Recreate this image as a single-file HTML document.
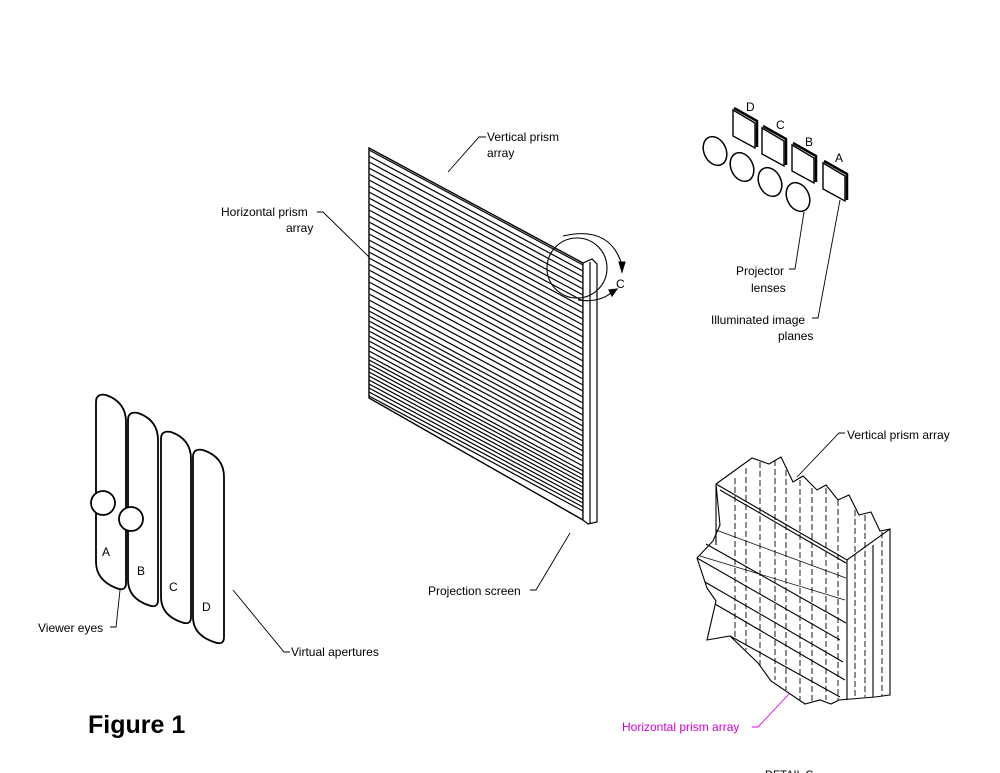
<!DOCTYPE html>
<html><head><meta charset="utf-8"><style>
body{margin:0;background:#fff;}
svg{display:block;font-family:"Liberation Sans","DejaVu Sans",sans-serif;}
text{font-size:12px;fill:#000;}
</style></head><body>
<svg width="1000" height="773" viewBox="0 0 1000 773" xmlns="http://www.w3.org/2000/svg">
<g stroke="#000" fill="none" stroke-width="1.2">
<polygon points="369,148 583,263 583,520 369,398" fill="#fff" stroke-width="1.4"/>
<polygon points="583,263 592,259 597,264 597,522 588,524 583,520" fill="#fff"/>
<line x1="590" y1="262" x2="590" y2="523"/>
<path d="M369,150 l214,115 M369,156 l214,115 M369,162 l214,115 M369,168 l214,115 M369,174 l214,115 M369,180 l214,115 M369,186 l214,115 M369,192 l214,115 M369,198 l214,115 M369,204 l214,115 M369,210 l214,115 M369,216 l214,115 M369,222 l214,115 M369,228 l214,115 M369,234 l214,115 M369,240 l214,115 M369,246 l214,115 M369,252 l214,115 M369,258 l214,115 M369,264 l214,115 M369,270 l214,115 M369,276 l214,115 M369,282 l214,115 M369,288 l214,115 M369,294 l214,115 M369,300 l214,115 M369,306 l214,115 M369,311 l214,115 M369,316 l214,115 M369,321 l214,115 M369,326 l214,115 M369,331 l214,115 M369,336 l214,115 M369,341 l214,115 M369,346 l214,115 M369,351 l214,115 M369,356 l214,115 M369,360 l214,115 M369,364 l214,115 M369,368 l214,115 M369,372 l214,115 M369,376 l214,115 M369,380 l214,115 M369,384 l214,115 M369,388 l214,115 M369,392 l214,115 M369,396 l214,115"/>
</g>
<g stroke="#000" fill="none" stroke-width="1.1">
<circle cx="577" cy="268" r="30"/>
<path d="M563,236 Q610,225 622,265"/>
<polygon points="622,272 619,262 625,262" fill="#000"/>
<path d="M578,300 Q600,303 612,292"/>
<polygon points="617,289 609,290 612,296" fill="#000"/>
</g>
<text x="616" y="288">C</text>
<g stroke="#000" fill="none" stroke-width="0.9">
<path d="M486,137 L479,137 L448,172"/>
<path d="M317,212 L323,212 L369,257"/>
<path d="M530,590 L536,590 L570,533"/>
<path d="M110,627 L116,627 L126,535"/>
<path d="M290,652 L284,652 L233,590"/>
<path d="M789,269 L795,269 L804,212"/>
<path d="M812,318 L818,318 L840,200"/>
<path d="M845,433 L839,433 L797,477"/>
</g>
<path d="M752,727 L758,727 L835,645" stroke="#e000e0" fill="none" stroke-width="0.9"/>
<text x="487" y="141">Vertical prism</text>
<text x="487" y="157">array</text>
<text x="221" y="216">Horizontal prism</text>
<text x="286" y="232">array</text>
<text x="428" y="595">Projection screen</text>
<text x="38" y="632">Viewer eyes</text>
<text x="291" y="656">Virtual apertures</text>
<text x="736" y="275">Projector</text>
<text x="751" y="292">lenses</text>
<text x="711" y="324">Illuminated image</text>
<text x="778" y="340">planes</text>
<text x="847" y="439">Vertical prism array</text>
<text x="622" y="731" style="fill:#d000d0">Horizontal prism array</text>
<text x="88" y="733" style="font-size:25px;font-weight:bold">Figure 1</text>
<text x="765" y="778" style="font-size:11px">DETAIL C</text>
<g stroke="#000" fill="#fff" stroke-width="1.5">
<ellipse cx="715" cy="151" rx="11" ry="15" transform="rotate(-25 715 151)"/>
<ellipse cx="742" cy="167" rx="11" ry="15" transform="rotate(-25 742 167)"/>
<ellipse cx="770" cy="182" rx="11" ry="15" transform="rotate(-25 770 182)"/>
<ellipse cx="798" cy="197" rx="11" ry="15" transform="rotate(-25 798 197)"/>
</g>
<g stroke="#000" fill="#fff" stroke-width="1.4">
<polygon points="733,110 755,123 755,148 733,136"/>
<polyline points="734,108 757,121 757,147" fill="none" stroke-width="2.5"/>
<polygon points="762,128 784,141 784,166 762,154"/>
<polyline points="763,126 786,139 786,165" fill="none" stroke-width="2.5"/>
<polygon points="792,145 814,158 814,183 792,171"/>
<polyline points="793,143 816,156 816,182" fill="none" stroke-width="2.5"/>
<polygon points="823,163 845,176 845,201 823,189"/>
<polyline points="824,161 847,174 847,200" fill="none" stroke-width="2.5"/>
</g>
<text x="746" y="111">D</text><text x="776" y="129">C</text><text x="805" y="146">B</text><text x="835" y="162">A</text>
<g stroke="#000" fill="#fff" stroke-width="1.8">
<path d="M96,402 Q96,393 106,395 Q126,402 126,422 L126,583 Q126,592 116,588 Q96,580 96,562 Z"/>
<path d="M128,420 Q128,411 138,413 Q158,420 158,440 L158,600 Q158,609 148,605 Q128,598 128,580 Z"/>
<path d="M161,439 Q161,430 171,432 Q191,439 191,459 L191,617 Q191,626 181,622 Q161,615 161,597 Z"/>
<path d="M193,457 Q193,448 203,450 Q224,457 224,477 L224,637 Q224,646 214,642 Q193,635 193,617 Z"/>
<circle cx="103" cy="503" r="12"/>
<circle cx="131" cy="519" r="12"/>
</g>
<text x="102" y="556">A</text><text x="137" y="575">B</text><text x="169" y="591">C</text><text x="202" y="611">D</text>
<g stroke="#000" fill="none" stroke-width="1.1">
<path d="M716,484 L752,458 L769,464 L781,457 L793,482 L803,476 L817,490 L826,485 L838,500 L849,495 L859,515 L871,512 L880,531 L890,529 L890,695 L875,697 L839,700 L831,704 L820,700 L805,704 L771,681 L758,663 L730,636 L707,640 L716,601 L707,588 L697,558 L713,541 L720,525 Z" fill="#fff"/>
<path d="M716,484 L847,560 L890,529"/>
<path d="M847,560 L847,700"/>
<path d="M873,545 L873,697"/>
<path d="M716,484 L716,545"/>
<path d="M720,490 L846,563 M697,558 L840,640 M706,544 L846,623 M705,582 L843,662 M715,604 L845,680 M730,636 L840,697"/>
<path d="M700,556 L845,600 M716,530 L846,578" stroke-width="0.7"/>
<g stroke-dasharray="6,3" stroke-width="0.9">
<path d="M735,478 L735,640 M746,468 L746,650 M760,462 L760,665 M775,460 L775,680 M786,470 L786,690 M800,480 L800,700 M812,488 L812,702 M826,488 L826,700 M838,500 L838,700 M855,510 L855,698 M865,515 L865,697 M882,532 L882,696"/>
</g>
</g>
</svg>
</body></html>
